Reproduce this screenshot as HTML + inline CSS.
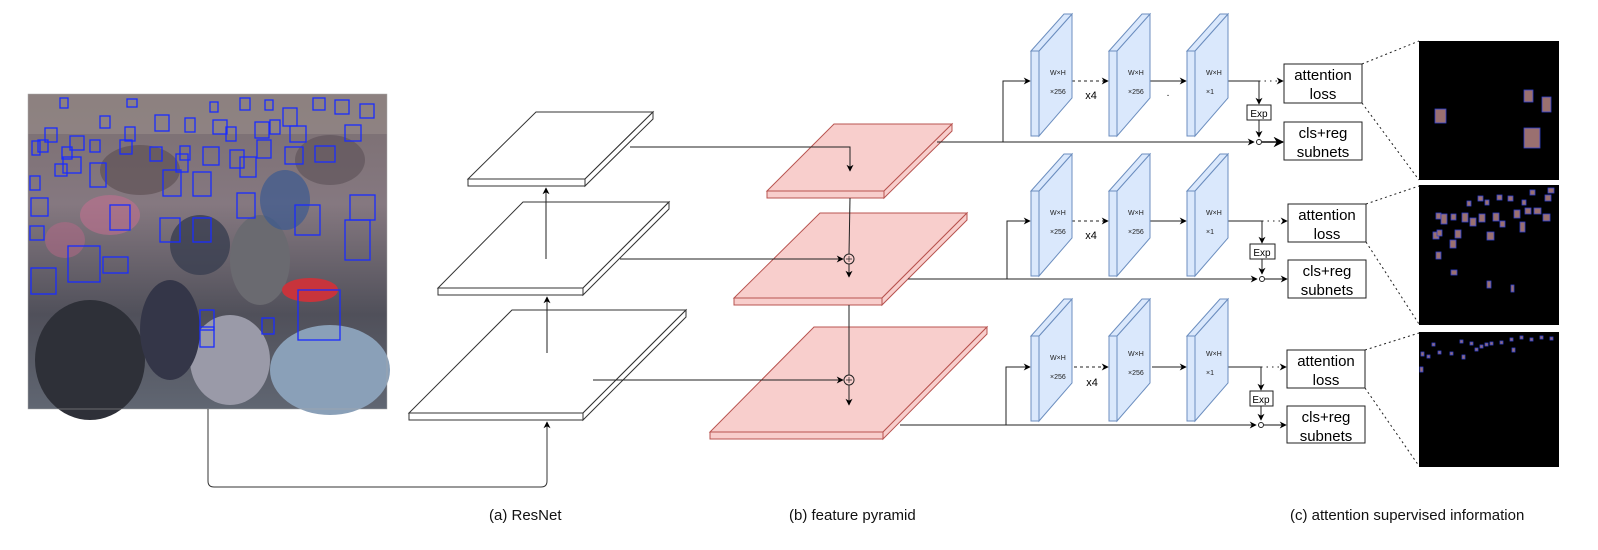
<!DOCTYPE html>
<html><head><meta charset="utf-8"><style>
html,body{margin:0;padding:0;background:#fff;}
svg{display:block;}
text{font-family:"Liberation Sans",Arial,sans-serif;}
</style></head><body>
<svg width="1598" height="550" viewBox="0 0 1598 550" xmlns="http://www.w3.org/2000/svg">
<defs>
<marker id="ah" viewBox="0 0 10 10" refX="9" refY="5" markerWidth="7" markerHeight="7" orient="auto-start-reverse"><path d="M0,0 L10,5 L0,10 L3,5 z" fill="#000"/></marker>
<linearGradient id="pg" x1="0" y1="0" x2="0" y2="1">
<stop offset="0" stop-color="#7a6e70"/><stop offset="0.35" stop-color="#857880"/><stop offset="0.7" stop-color="#50505a"/><stop offset="1" stop-color="#606672"/></linearGradient>
</defs>

<!-- photo -->
<rect x="28" y="94" width="359" height="315" fill="url(#pg)"/>
<rect x="28" y="94" width="359" height="40" fill="#9a8e8a" opacity="0.6"/>
<ellipse cx="90" cy="360" rx="55" ry="60" fill="#2e3038"/>
<ellipse cx="330" cy="370" rx="60" ry="45" fill="#8aa0b8"/>
<ellipse cx="230" cy="360" rx="40" ry="45" fill="#9a9aa8"/>
<ellipse cx="170" cy="330" rx="30" ry="50" fill="#343648"/>
<ellipse cx="260" cy="260" rx="30" ry="45" fill="#6a6a70"/>
<ellipse cx="310" cy="290" rx="28" ry="12" fill="#c8343c"/>
<ellipse cx="110" cy="215" rx="30" ry="20" fill="#c07090" opacity="0.6"/>
<ellipse cx="65" cy="240" rx="20" ry="18" fill="#b86888" opacity="0.5"/>
<ellipse cx="200" cy="245" rx="30" ry="30" fill="#3a3e50" opacity="0.8"/>
<ellipse cx="285" cy="200" rx="25" ry="30" fill="#3c5a90" opacity="0.7"/>
<ellipse cx="140" cy="170" rx="40" ry="25" fill="#5a4c50" opacity="0.6"/>
<ellipse cx="330" cy="160" rx="35" ry="25" fill="#5c5056" opacity="0.6"/>
<g fill="none" stroke="#1a2cff" stroke-width="1.3">
<rect x="298" y="290" width="42" height="50"/><rect x="68" y="246" width="32" height="36"/><rect x="31" y="268" width="25" height="26"/>
<rect x="103" y="257" width="25" height="16"/><rect x="295" y="205" width="25" height="30"/><rect x="345" y="220" width="25" height="40"/>
<rect x="350" y="195" width="25" height="25"/><rect x="237" y="193" width="18" height="25"/><rect x="193" y="218" width="18" height="24"/>
<rect x="200" y="310" width="14" height="20"/><rect x="200" y="327" width="14" height="20"/><rect x="262" y="318" width="12" height="16"/>
<rect x="30" y="226" width="14" height="14"/><rect x="31" y="198" width="17" height="18"/><rect x="160" y="218" width="20" height="24"/>
<rect x="110" y="205" width="20" height="25"/><rect x="90" y="163" width="16" height="24"/><rect x="63" y="157" width="18" height="16"/>
<rect x="163" y="170" width="18" height="26"/><rect x="193" y="172" width="18" height="24"/><rect x="240" y="157" width="16" height="20"/>
<rect x="285" y="147" width="18" height="17"/><rect x="315" y="146" width="20" height="16"/><rect x="203" y="147" width="16" height="18"/>
<rect x="230" y="150" width="14" height="18"/><rect x="257" y="140" width="14" height="18"/><rect x="283" y="108" width="14" height="18"/>
<rect x="55" y="164" width="12" height="12"/><rect x="45" y="128" width="12" height="14"/><rect x="70" y="136" width="14" height="14"/>
<rect x="120" y="140" width="12" height="14"/><rect x="150" y="147" width="12" height="14"/><rect x="176" y="154" width="12" height="18"/>
<rect x="290" y="126" width="16" height="16"/><rect x="345" y="125" width="16" height="16"/><rect x="335" y="100" width="14" height="14"/>
<rect x="360" y="104" width="14" height="14"/><rect x="313" y="98" width="12" height="12"/><rect x="240" y="98" width="10" height="12"/>
<rect x="213" y="120" width="14" height="14"/><rect x="185" y="118" width="10" height="14"/><rect x="155" y="115" width="14" height="16"/>
<rect x="125" y="127" width="10" height="14"/><rect x="62" y="147" width="10" height="12"/><rect x="38" y="140" width="10" height="12"/>
<rect x="30" y="176" width="10" height="14"/><rect x="90" y="140" width="10" height="12"/><rect x="100" y="116" width="10" height="12"/>
<rect x="60" y="98" width="8" height="10"/><rect x="127" y="99" width="10" height="8"/><rect x="210" y="102" width="8" height="10"/>
<rect x="265" y="100" width="8" height="10"/><rect x="180" y="146" width="10" height="14"/><rect x="226" y="127" width="10" height="14"/>
<rect x="255" y="122" width="14" height="16"/><rect x="270" y="120" width="10" height="14"/><rect x="32" y="141" width="8" height="14"/>
</g>
<rect x="28" y="94" width="359" height="315" fill="none" stroke="#aaa" stroke-width="0.5"/>

<!-- connector from photo -->
<path d="M208,409 L208,481 Q208,487 214,487 L541,487 Q547,487 547,481 L547,422" fill="none" stroke="#333" stroke-width="1" marker-end="url(#ah)"/>

<!-- white plates -->
<g fill="#fff" stroke="#333" stroke-width="1">
<polygon points="536,112 653,112 585,179 468,179"/><rect x="468" y="179" width="117" height="7"/><polygon points="585,179 653,112 653,119 585,186"/>
<polygon points="523,202 669,202 583,288 438,288"/><rect x="438" y="288" width="145" height="7"/><polygon points="583,288 669,202 669,209 583,295"/>
<polygon points="512,310 686,310 583,413 409,413"/><rect x="409" y="413" width="174" height="7"/><polygon points="583,413 686,310 686,317 583,420"/>
</g>
<!-- pink plates -->
<g fill="#f8cecc" stroke="#b85450" stroke-width="1">
<polygon points="834,124 952,124 884,191 767,191"/><rect x="767" y="191" width="117" height="7"/><polygon points="884,191 952,124 952,131 884,198"/>
<polygon points="820,213 967,213 882,298 734,298"/><rect x="734" y="298" width="148" height="7"/><polygon points="882,298 967,213 967,220 882,305"/>
<polygon points="814,327 987,327 883,432 710,432"/><rect x="710" y="432" width="173" height="7"/><polygon points="883,432 987,327 987,334 883,439"/>
</g>

<g fill="none" stroke="#222" stroke-width="1">
<line x1="546" y1="259" x2="546" y2="188" marker-end="url(#ah)"/>
<line x1="547" y1="353" x2="547" y2="297" marker-end="url(#ah)"/>
<path d="M630,147 L850,147 L850,171" marker-end="url(#ah)"/>
<path d="M620,259 L843,259" marker-end="url(#ah)"/>
<path d="M593,380 L843,380" marker-end="url(#ah)"/>
<line x1="850" y1="198" x2="849" y2="254"/>
<line x1="849" y1="264" x2="849" y2="277" marker-end="url(#ah)"/>
<line x1="849" y1="305" x2="849" y2="375"/>
<line x1="849" y1="385" x2="849" y2="405" marker-end="url(#ah)"/>
<circle cx="849" cy="259" r="5"/><circle cx="849" cy="380" r="5"/>
<path d="M846,259 h6 M849,256 v6 M846,380 h6 M849,377 v6" stroke-width="0.7"/>
<line x1="937" y1="142" x2="1254" y2="142" marker-end="url(#ah)"/>
<line x1="908" y1="279" x2="1257" y2="279" marker-end="url(#ah)"/>
<line x1="900" y1="425" x2="1256" y2="425" marker-end="url(#ah)"/>
</g>

<g stroke-width="1">
<g>
<path d="M1003,142 L1003,81 L1030,81" fill="none" stroke="#222" marker-end="url(#ah)"/>
<line x1="1072" y1="81" x2="1108" y2="81" stroke="#222" stroke-dasharray="3,3" marker-end="url(#ah)"/>
<line x1="1150" y1="81" x2="1186" y2="81" stroke="#222" marker-end="url(#ah)"/>
<path d="M1228,81 L1259,81 L1259,104" fill="none" stroke="#222" marker-end="url(#ah)"/>
<line x1="1259" y1="81" x2="1283" y2="81" stroke="#222" stroke-dasharray="1.5,4" marker-end="url(#ah)"/>
<rect x="1247" y="105" width="24" height="15" fill="#fff" stroke="#222"/>
<text x="1259" y="117" font-size="10" text-anchor="middle">Exp</text>
<line x1="1259" y1="120" x2="1259" y2="137" stroke="#222" marker-end="url(#ah)"/>
<circle cx="1259" cy="142" r="2.5" fill="#fff" stroke="#222"/>
<line x1="1262" y1="142" x2="1283" y2="142" stroke="#111" stroke-width="1.5" marker-end="url(#ah)"/>
<rect x="1284" y="64" width="78" height="39" fill="#fff" stroke="#222"/>
<text x="1323" y="80" font-size="15" text-anchor="middle">attention</text><text x="1323" y="99" font-size="15" text-anchor="middle">loss</text>
<rect x="1284" y="122" width="78" height="38" fill="#fff" stroke="#222"/>
<text x="1323" y="138" font-size="15" text-anchor="middle">cls+reg</text><text x="1323" y="157" font-size="15" text-anchor="middle">subnets</text>
<text x="1091" y="99" font-size="11" text-anchor="middle">x4</text>
<text x="1168" y="96" font-size="10" text-anchor="middle">.</text>
</g>
<g>
<path d="M1007,279 L1007,221 L1030,221" fill="none" stroke="#222" marker-end="url(#ah)"/>
<line x1="1072" y1="221" x2="1108" y2="221" stroke="#222" stroke-dasharray="3,3" marker-end="url(#ah)"/>
<line x1="1150" y1="221" x2="1186" y2="221" stroke="#222" marker-end="url(#ah)"/>
<path d="M1228,221 L1262,221 L1262,243" fill="none" stroke="#222" marker-end="url(#ah)"/>
<line x1="1262" y1="221" x2="1287" y2="221" stroke="#222" stroke-dasharray="1.5,4" marker-end="url(#ah)"/>
<rect x="1250" y="244" width="25" height="15" fill="#fff" stroke="#222"/>
<text x="1262" y="256" font-size="10" text-anchor="middle">Exp</text>
<line x1="1262" y1="259" x2="1262" y2="274" stroke="#222" marker-end="url(#ah)"/>
<circle cx="1262" cy="279" r="2.5" fill="#fff" stroke="#222"/>
<line x1="1265" y1="279" x2="1287" y2="279" stroke="#111" marker-end="url(#ah)"/>
<rect x="1288" y="204" width="78" height="38" fill="#fff" stroke="#222"/>
<text x="1327" y="220" font-size="15" text-anchor="middle">attention</text><text x="1327" y="239" font-size="15" text-anchor="middle">loss</text>
<rect x="1288" y="260" width="78" height="38" fill="#fff" stroke="#222"/>
<text x="1327" y="276" font-size="15" text-anchor="middle">cls+reg</text><text x="1327" y="295" font-size="15" text-anchor="middle">subnets</text>
<text x="1091" y="239" font-size="11" text-anchor="middle">x4</text>
</g>
<g>
<path d="M1006,425 L1006,367 L1030,367" fill="none" stroke="#222" marker-end="url(#ah)"/>
<line x1="1074" y1="367" x2="1108" y2="367" stroke="#222" stroke-dasharray="3,3" marker-end="url(#ah)"/>
<line x1="1152" y1="367" x2="1186" y2="367" stroke="#222" marker-end="url(#ah)"/>
<path d="M1228,367 L1261,367 L1261,390" fill="none" stroke="#222" marker-end="url(#ah)"/>
<line x1="1261" y1="367" x2="1286" y2="367" stroke="#222" stroke-dasharray="1.5,4" marker-end="url(#ah)"/>
<rect x="1250" y="391" width="23" height="15" fill="#fff" stroke="#222"/>
<text x="1261" y="403" font-size="10" text-anchor="middle">Exp</text>
<line x1="1261" y1="406" x2="1261" y2="420" stroke="#222" marker-end="url(#ah)"/>
<circle cx="1261" cy="425" r="2.5" fill="#fff" stroke="#222"/>
<line x1="1264" y1="425" x2="1286" y2="425" stroke="#111" marker-end="url(#ah)"/>
<rect x="1287" y="350" width="78" height="38" fill="#fff" stroke="#222"/>
<text x="1326" y="366" font-size="15" text-anchor="middle">attention</text><text x="1326" y="385" font-size="15" text-anchor="middle">loss</text>
<rect x="1287" y="406" width="78" height="37" fill="#fff" stroke="#222"/>
<text x="1326" y="422" font-size="15" text-anchor="middle">cls+reg</text><text x="1326" y="441" font-size="15" text-anchor="middle">subnets</text>
<text x="1092" y="386" font-size="11" text-anchor="middle">x4</text>
</g>
</g>

<g fill="#dae8fc" stroke="#6c8ebf" stroke-width="1">
<g id="b1"><polygon points="1039,51 1072,14 1072,98 1039,136"/><polygon points="1031,51 1064,14 1072,14 1039,51"/><rect x="1031" y="51" width="8" height="85"/></g>
<use href="#b1" x="78"/><use href="#b1" x="156"/>
<use href="#b1" y="140"/><use href="#b1" x="78" y="140"/><use href="#b1" x="156" y="140"/>
<use href="#b1" y="285"/><use href="#b1" x="78" y="285"/><use href="#b1" x="156" y="285"/>
</g>
<g font-size="7" fill="#222">
<text x="1050" y="75">W×H</text><text x="1050" y="94">×256</text>
<text x="1128" y="75">W×H</text><text x="1128" y="94">×256</text>
<text x="1206" y="75">W×H</text><text x="1206" y="94">×1</text>
<text x="1050" y="215">W×H</text><text x="1050" y="234">×256</text>
<text x="1128" y="215">W×H</text><text x="1128" y="234">×256</text>
<text x="1206" y="215">W×H</text><text x="1206" y="234">×1</text>
<text x="1050" y="360">W×H</text><text x="1050" y="379">×256</text>
<text x="1128" y="356">W×H</text><text x="1128" y="375">×256</text>
<text x="1206" y="356">W×H</text><text x="1206" y="375">×1</text>
</g>

<rect x="1419" y="41" width="140" height="139" fill="#000"/>
<rect x="1419" y="185" width="140" height="140" fill="#000"/>
<rect x="1419" y="332" width="140" height="135" fill="#000"/>
<g fill="#9a7070" stroke="#3040d0" stroke-width="0.8">
<rect x="1435" y="109" width="11" height="14"/><rect x="1524" y="90" width="9" height="12"/><rect x="1542" y="97" width="9" height="15"/><rect x="1524" y="128" width="16" height="20"/>
<rect x="1436" y="213" width="5" height="6"/><rect x="1451" y="214" width="5" height="6"/><rect x="1433" y="232" width="6" height="7"/><rect x="1441" y="214" width="6" height="10"/><rect x="1437" y="230" width="5" height="6"/>
<rect x="1450" y="240" width="6" height="8"/><rect x="1462" y="213" width="6" height="9"/><rect x="1479" y="214" width="6" height="8"/><rect x="1493" y="213" width="6" height="8"/><rect x="1500" y="221" width="5" height="6"/>
<rect x="1514" y="210" width="6" height="8"/><rect x="1525" y="208" width="6" height="6"/><rect x="1534" y="208" width="7" height="6"/><rect x="1543" y="214" width="7" height="7"/>
<rect x="1455" y="230" width="6" height="8"/><rect x="1470" y="218" width="6" height="8"/><rect x="1487" y="232" width="7" height="8"/><rect x="1520" y="222" width="5" height="10"/>
<rect x="1436" y="252" width="5" height="7"/><rect x="1451" y="270" width="6" height="5"/><rect x="1487" y="281" width="4" height="7"/><rect x="1511" y="285" width="3" height="7"/>
<rect x="1478" y="196" width="5" height="5"/><rect x="1497" y="195" width="5" height="5"/><rect x="1508" y="196" width="5" height="5"/><rect x="1530" y="190" width="5" height="5"/><rect x="1548" y="188" width="6" height="5"/>
<rect x="1467" y="201" width="4" height="5"/><rect x="1485" y="200" width="4" height="5"/><rect x="1522" y="200" width="4" height="5"/><rect x="1545" y="195" width="6" height="6"/>
<rect x="1460" y="340" width="3" height="3"/><rect x="1470" y="342" width="3" height="3"/><rect x="1480" y="345" width="3" height="3"/><rect x="1490" y="342" width="3" height="3"/><rect x="1500" y="341" width="3" height="3"/>
<rect x="1510" y="338" width="3" height="3"/><rect x="1520" y="336" width="3" height="3"/><rect x="1530" y="338" width="3" height="3"/><rect x="1540" y="336" width="3" height="3"/><rect x="1550" y="337" width="3" height="3"/>
<rect x="1421" y="352" width="3" height="4"/><rect x="1427" y="355" width="3" height="3"/><rect x="1438" y="351" width="3" height="3"/><rect x="1450" y="352" width="3" height="3"/><rect x="1462" y="355" width="3" height="4"/>
<rect x="1475" y="348" width="3" height="3"/><rect x="1485" y="343" width="3" height="3"/><rect x="1512" y="348" width="3" height="4"/><rect x="1420" y="367" width="3" height="5"/><rect x="1432" y="343" width="3" height="3"/>
</g>
<g fill="none" stroke="#222" stroke-width="1" stroke-dasharray="2,3">
<line x1="1362" y1="64" x2="1419" y2="41"/><line x1="1362" y1="103" x2="1419" y2="180"/>
<line x1="1366" y1="204" x2="1419" y2="186"/><line x1="1366" y1="242" x2="1419" y2="324"/>
<line x1="1365" y1="350" x2="1419" y2="333"/><line x1="1365" y1="388" x2="1419" y2="466"/>
</g>

<g font-size="15" fill="#111">
<text x="489" y="520">(a) ResNet</text>
<text x="789" y="520">(b) feature pyramid</text>
<text x="1290" y="520">(c) attention supervised information</text>
</g>
</svg>
</body></html>
